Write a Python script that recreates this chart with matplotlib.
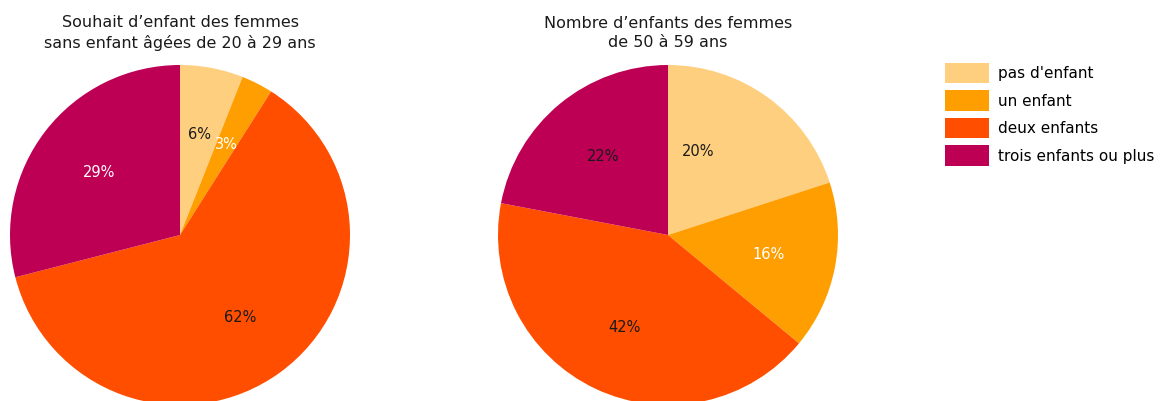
import matplotlib.pyplot as plt
from matplotlib.patches import Patch

# données
categories = ["pas d'enfant", 'un enfant', 'deux enfants', 'trois enfants ou plus']
souhait = [6, 3, 62, 29]       # femmes sans enfant 20-29 ans
nombre = [20, 16, 42, 22]      # femmes de 50-59 ans
titles = ["Souhait d\u2019enfant des femmes\nsans enfant âgées de 20 à 29 ans",
          "Nombre d\u2019enfants des femmes\nde 50 à 59 ans"]

colors = ['#FFCF80', '#FF9E00', '#FF4E00', '#BE0055']
txt_left = ['#1a1a1a', 'white', '#1a1a1a', 'white']
txt_right = ['#1a1a1a', 'white', '#1a1a1a', '#1a1a1a']

plt.rcParams['font.family'] = ['DejaVu Sans']

W, H = 1164, 401
fig = plt.figure(figsize=(W / 100, H / 100), dpi=100)


def draw_pie(cx, title, values, tcols):
    r = 170
    cy = 235
    ax = fig.add_axes([(cx - r) / W, (H - cy - r) / H, 2 * r / W, 2 * r / H])
    wedges, texts, autotexts = ax.pie(values, colors=colors, startangle=90, counterclock=False,
                                      autopct='%d%%', pctdistance=0.6, radius=1,
                                      wedgeprops=dict(linewidth=0))
    for t, c in zip(autotexts, tcols):
        t.set_color(c)
        t.set_fontsize(10.5)
    ax.set_xlim(-1, 1)
    ax.set_ylim(-1, 1)
    ax.set_aspect('equal')
    ax.axis('off')
    for w in wedges:
        w.set_clip_on(False)
    fig.text(cx / W, 1 - 33 / H, title, ha='center', va='center', fontsize=11.5,
             color='#1a1a1a', linespacing=1.35)
    return autotexts


draw_pie(180, titles[0], souhait, txt_left)
at = draw_pie(668, titles[1], nombre, txt_right)
# l'étiquette 20% est placée plus près du centre dans l'original
at[0].set_position((0.18, 0.49))

handles = [Patch(facecolor=c, edgecolor='none') for c in colors]
fig.legend(handles, categories, loc='upper left', bbox_to_anchor=(931 / W, 1 - 49 / H),
           frameon=False, fontsize=11, handlelength=2.9, handleheight=1.7,
           labelspacing=0.45, handletextpad=0.6, borderpad=0.4)

fig.savefig('out.png', dpi=100)
